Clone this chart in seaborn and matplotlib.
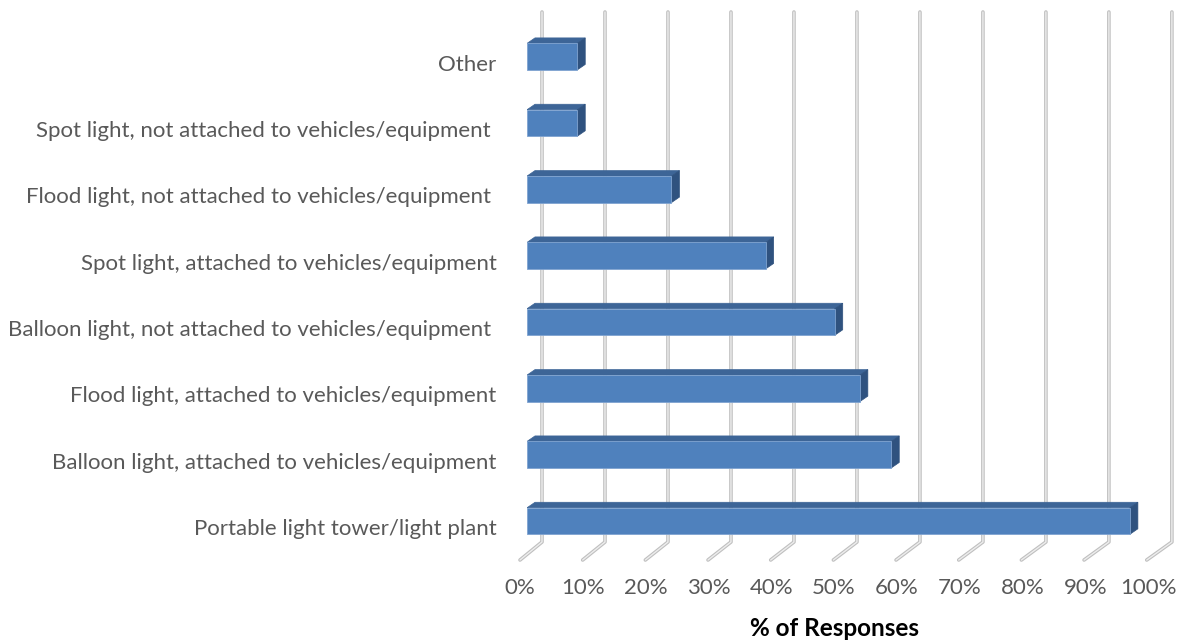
import matplotlib
matplotlib.use("Agg")
import matplotlib.pyplot as plt
import seaborn as sns
import pandas as pd
from matplotlib.patches import Polygon
from matplotlib.transforms import ScaledTranslation

categories = [
    "Other",
    "Spot light, not attached to vehicles/equipment ",
    "Flood light, not attached to vehicles/equipment ",
    "Spot light, attached to vehicles/equipment",
    "Balloon light, not attached to vehicles/equipment ",
    "Flood light, attached to vehicles/equipment",
    "Balloon light, attached to vehicles/equipment",
    "Portable light tower/light plant",
]
values = [8, 8, 23, 38, 49, 53, 58, 96]
tick_values = [0, 10, 20, 30, 40, 50, 60, 70, 80, 90, 100]
tick_labels = [f"{v}%" for v in tick_values]
x_label = "% of Responses"

sns.set_theme(style="white")
plt.rcParams["font.family"] = ["Lato", "DejaVu Sans"]

W, H = 1177, 644
DPI = 100
fig = plt.figure(figsize=(W / DPI, H / DPI), dpi=DPI)
fig.patch.set_facecolor("white")

# axes = front plane of the 3D box (pixel geometry)
ax_left, ax_right = 527, 1155
ax_top, ax_bottom = 23.5, 554.2
ax = fig.add_axes([ax_left / W, 1 - ax_bottom / H, (ax_right - ax_left) / W, (ax_bottom - ax_top) / H])

df = pd.DataFrame({"category": categories, "value": values})
sns.barplot(data=df, x="value", y="category", orient="h", color="#4F81BD",
            saturation=1, width=0.40, edgecolor="#7FA3D0", linewidth=0.6, ax=ax, zorder=3)
ax.set_xlim(0, 100)
ax.set_ylim(len(categories) - 0.5, -0.5)

sx = (ax_right - ax_left) / 100.0          # px per % on front plane
sy = (ax_bottom - ax_top) / len(categories)  # px per category


def ydata(px):
    return -0.5 + (px - ax_top) / sy


# back wall gridlines + floor diagonals
back_dx = 15 / sx
floor_dx = -7 / sx
y_top, y_back_floor, y_front_floor = ydata(12), ydata(542), ydata(560)
for v in tick_values:
    xb = v * 1.003 + back_dx
    xf = v * 0.998 + floor_dx
    xs = [xb, xb, xf]
    ys = [y_top, y_back_floor, y_front_floor]
    ax.plot(xs, ys, color="#BFBFBF", lw=2.6, clip_on=False, zorder=0.5,
            solid_capstyle="round", solid_joinstyle="round")
    ax.plot(xs, ys, color="#EDEDED", lw=1.0, clip_on=False, zorder=0.6,
            solid_capstyle="round", solid_joinstyle="round")

# 3D faces for bars
ddx = 8 / sx
ddy = 5.5 / sy
for p in list(ax.patches):
    x0, y0, w, h = p.get_x(), p.get_y(), p.get_width(), p.get_height()
    x1 = x0 + w
    top = Polygon([(x0, y0), (x1, y0), (x1 + ddx, y0 - ddy), (x0 + ddx, y0 - ddy)],
                  closed=True, facecolor="#3D6597", edgecolor="#3D6597", lw=0.5, zorder=2.9)
    side = Polygon([(x1, y0), (x1, y0 + h), (x1 + ddx, y0 + h - ddy), (x1 + ddx, y0 - ddy)],
                   closed=True, facecolor="#2F527F", edgecolor="#2F527F", lw=0.5, zorder=2.9)
    ax.add_patch(top)
    ax.add_patch(side)

for s in ax.spines.values():
    s.set_visible(False)
ax.grid(False)

ax.set_xticks(tick_values, tick_labels)
ax.tick_params(axis="x", length=0, pad=17, labelsize=16, labelcolor="#595959")
ax.tick_params(axis="y", length=0, pad=22, labelsize=16, labelcolor="#595959")
for lab in ax.get_xticklabels():
    lab.set_transform(lab.get_transform() + ScaledTranslation(-7 / DPI, 0, fig.dpi_scale_trans))
for lab in ax.get_yticklabels():
    lab.set_transform(lab.get_transform() + ScaledTranslation(0, -6 / DPI, fig.dpi_scale_trans))

ax.set_ylabel("")
ax.set_xlabel(x_label, fontsize=17.5, fontweight="bold", color="black")
ax.xaxis.label.set_va("center")
ax.xaxis.set_label_coords((835 - ax_left) / (ax_right - ax_left), -(629 - ax_bottom) / (ax_bottom - ax_top))

fig.savefig("out.png", dpi=DPI, facecolor="white")
